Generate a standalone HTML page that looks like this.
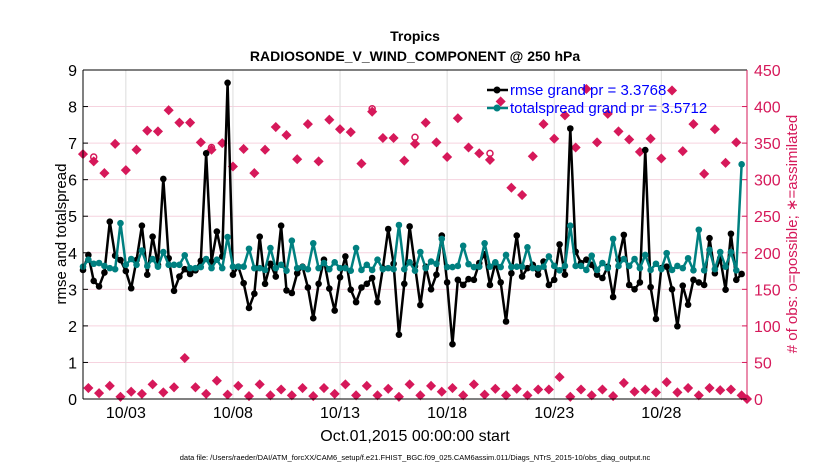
<!DOCTYPE html>
<html><head><meta charset="utf-8"><style>
body{margin:0;background:#fff;}
svg{display:block;font-family:"Liberation Sans",Arial,sans-serif;}
</style></head><body>
<svg id="chart" width="830" height="470" viewBox="0 0 830 470">
<rect x="0" y="0" width="830" height="470" fill="#fff"/>
<text x="415" y="41" text-anchor="middle" font-size="14" font-weight="bold">Tropics</text>
<text x="415" y="61" text-anchor="middle" font-size="14" font-weight="bold">RADIOSONDE_V_WIND_COMPONENT @ 250 hPa</text>
<g id="grid"></g>
<g id="obs"></g>
<g id="series"></g>
<g id="axes"></g>
<text transform="translate(66,234) rotate(-90)" text-anchor="middle" font-size="15">rmse and totalspread</text>
<text transform="translate(797,234) rotate(-90)" text-anchor="middle" font-size="15" fill="#d6195a"># of obs: o=possible; ∗=assimilated</text>
<text x="415" y="441" text-anchor="middle" font-size="16">Oct.01,2015 00:00:00 start</text>
<text x="415" y="460" text-anchor="middle" font-size="7.5">data file: /Users/raeder/DAI/ATM_forcXX/CAM6_setup/f.e21.FHIST_BGC.f09_025.CAM6assim.011/Diags_NTrS_2015-10/obs_diag_output.nc</text>
<g id="legend">
<line x1="487" y1="90" x2="508" y2="90" stroke="#000" stroke-width="2.5"/>
<circle cx="497" cy="90" r="3.5" fill="#000"/>
<text x="510" y="95" font-size="15" fill="#0000ff">rmse grand pr = 3.3768</text>
<line x1="487" y1="108" x2="508" y2="108" stroke="#008080" stroke-width="2.5"/>
<circle cx="497" cy="108" r="3.5" fill="#008080"/>
<text x="510" y="113" font-size="15" fill="#0000ff">totalspread grand pr = 3.5712</text>
</g>
</svg>
<script>
const rmse=[3.53,3.94,3.23,3.08,3.46,4.85,3.92,3.8,3.5,3.03,3.8,4.74,3.4,4.44,3.67,6.02,3.85,2.96,3.35,3.55,3.42,3.52,3.78,6.72,3.76,4.58,3.9,8.65,3.4,3.62,3.17,2.49,2.88,4.44,3.15,3.7,3.35,4.74,2.97,2.9,3.44,3.62,3.05,2.21,3.15,3.81,3.02,2.42,3.33,3.9,2.99,2.65,3.05,3.15,3.31,2.65,3.58,4.65,3.7,1.76,3.15,4.72,3.64,2.57,3.62,3.0,3.4,4.47,3.19,1.5,3.26,3.12,3.28,3.26,3.72,3.96,3.12,3.72,3.19,2.12,3.44,4.47,3.35,3.58,3.67,3.4,3.76,3.12,3.26,4.23,3.4,7.4,4.03,3.72,3.81,3.67,3.4,3.31,3.62,2.79,3.81,4.49,3.12,3.0,3.19,6.81,3.06,2.19,3.58,3.62,3.0,1.99,3.1,2.58,3.26,3.19,3.12,4.4,3.44,3.85,2.99,4.52,3.26,3.42];
const spread=[3.62,3.81,3.70,3.72,3.64,3.58,3.55,4.81,3.67,3.83,3.67,4.06,3.64,3.83,3.62,4.02,3.67,3.67,3.67,3.93,3.58,3.58,3.61,3.83,3.58,3.81,3.58,4.43,3.62,3.62,3.62,4.11,3.58,3.58,3.53,4.13,3.58,3.67,3.51,4.33,3.58,3.61,3.55,4.26,3.58,3.72,3.55,3.74,3.58,3.58,3.51,4.13,3.53,3.67,3.53,3.81,3.55,3.58,3.55,4.76,3.55,3.74,3.51,4.02,3.58,3.76,3.70,4.38,3.61,3.61,3.64,4.19,3.69,3.61,3.62,4.26,3.62,3.74,3.61,3.94,3.61,3.62,3.62,4.15,3.58,3.58,3.62,3.90,3.64,3.52,3.64,4.74,3.64,3.64,3.53,3.92,3.53,3.72,3.58,4.38,3.64,3.83,3.64,3.83,3.58,3.94,3.53,3.70,3.55,3.99,3.53,3.64,3.58,3.85,3.52,4.63,3.52,4.08,3.55,4.02,3.62,4.02,3.52,6.42];
const obsAssim=[335,15,325,8,309,18,349,3,313,10,341,7,367,20,366,9,395,16,378,56,378,16,351,7,341,25,350,6,318,18,342,4,309,20,341,5,372,13,361,5,328,15,376,4,325,15,382,7,369,20,365,5,322,18,393,5,357,14,357,3,326,20,349,5,378,18,351,10,331,15,384,5,344,20,336,6,327,14,407,5,289,14,279,5,332,13,376,13,356,30,388,3,344,13,424,5,351,13,390,4,366,22,355,10,338,13,356,9,329,23,422,9,339,15,376,5,308,15,369,12,323,13,351,5,0];
const obsPossibleIdx=[2,24,54,62,76];
const obsPossibleVal=[331,344,397,358,336];
const yTicks=[0,1,2,3,4,5,6,7,8,9];
const y2Ticks=[0,50,100,150,200,250,300,350,400,450];
const xTickDays=[2,7,12,17,22,27];
const xTickLabels=["10/03","10/08","10/13","10/18","10/23","10/28"];

const NS="http://www.w3.org/2000/svg";
const L=83,R=747,T=70,B=399;
const xDay=d=>L+(R-L)*d/31;
const xIdx=i=>xDay(i*0.25);
const yL=v=>B-(B-T)*v/9;
const yR=v=>B-(B-T)*v/450;
function mk(tag,attrs,parent){const e=document.createElementNS(NS,tag);for(const k in attrs)e.setAttribute(k,attrs[k]);parent.appendChild(e);return e;}
const grid=document.getElementById('grid'),axes=document.getElementById('axes'),obsG=document.getElementById('obs'),ser=document.getElementById('series');

yTicks.forEach(v=>{
  if(v>0&&v<9){const g=mk('line',{x1:L,x2:R,y1:yL(v),y2:yL(v),stroke:'#f6d3df','stroke-width':1},grid);
  
  }
  const t=mk('text',{x:L-6,y:yL(v)+6,'text-anchor':'end','font-size':16},axes);t.textContent=v;
  
  
  mk('line',{x1:L,x2:L+5,y1:yL(v),y2:yL(v),stroke:'#000'},axes);
});
y2Ticks.forEach(v=>{
  const t=mk('text',{x:R+7,y:yR(v)+6,'font-size':16,fill:'#d6195a'},axes);t.textContent=v;
  
  
  mk('line',{x1:R-5,x2:R,y1:yR(v),y2:yR(v),stroke:'#d6195a'},axes);
});
xTickDays.forEach((d,k)=>{
  const g=mk('line',{x1:xDay(d),x2:xDay(d),y1:T,y2:B,stroke:'#dcdcdc','stroke-width':1},grid);
  
  
  const t=mk('text',{x:xDay(d),y:418,'text-anchor':'middle','font-size':16},axes);t.textContent=xTickLabels[k];
  
  
});
const fr=mk('path',{d:`M${L},${T}H${R}M${L},${B}H${R}M${L},${T}V${B}`,stroke:'#000','stroke-width':1,fill:'none'},axes);


const ra=mk('line',{x1:R,x2:R,y1:T,y2:B,stroke:'#d6195a','stroke-width':1},axes);



obsPossibleIdx.forEach((i,k)=>{
  const c=mk('circle',{cx:xIdx(i),cy:yR(obsPossibleVal[k]),r:3,fill:'none',stroke:'#d6195a','stroke-width':1.5},obsG);
  
  
});
obsAssim.forEach((v,i)=>{
  const x=xIdx(i),y=yR(v),s=4.2;
  const p=mk('path',{d:`M${x},${y-s}L${x+s},${y}L${x},${y+s}L${x-s},${y}Z M${x-s},${y}H${x+s} M${x},${y-s}V${y+s}`,fill:'#d6195a',stroke:'#d6195a','stroke-width':1.2},obsG);
  
  
});

function series(vals,color,name){
  const pl=mk('polyline',{points:vals.map((v,i)=>xIdx(i)+','+yL(v)).join(' '),fill:'none',stroke:color,'stroke-width':2.5,'stroke-linejoin':'round'},ser);
  
  
  vals.forEach((v,i)=>{
    const c=mk('circle',{cx:xIdx(i),cy:yL(v),r:3.3,fill:color},ser);
    
    
  });
}
series(rmse,'#000','rmse');
series(spread,'#008080','totalspread');
</script>
</body></html>
